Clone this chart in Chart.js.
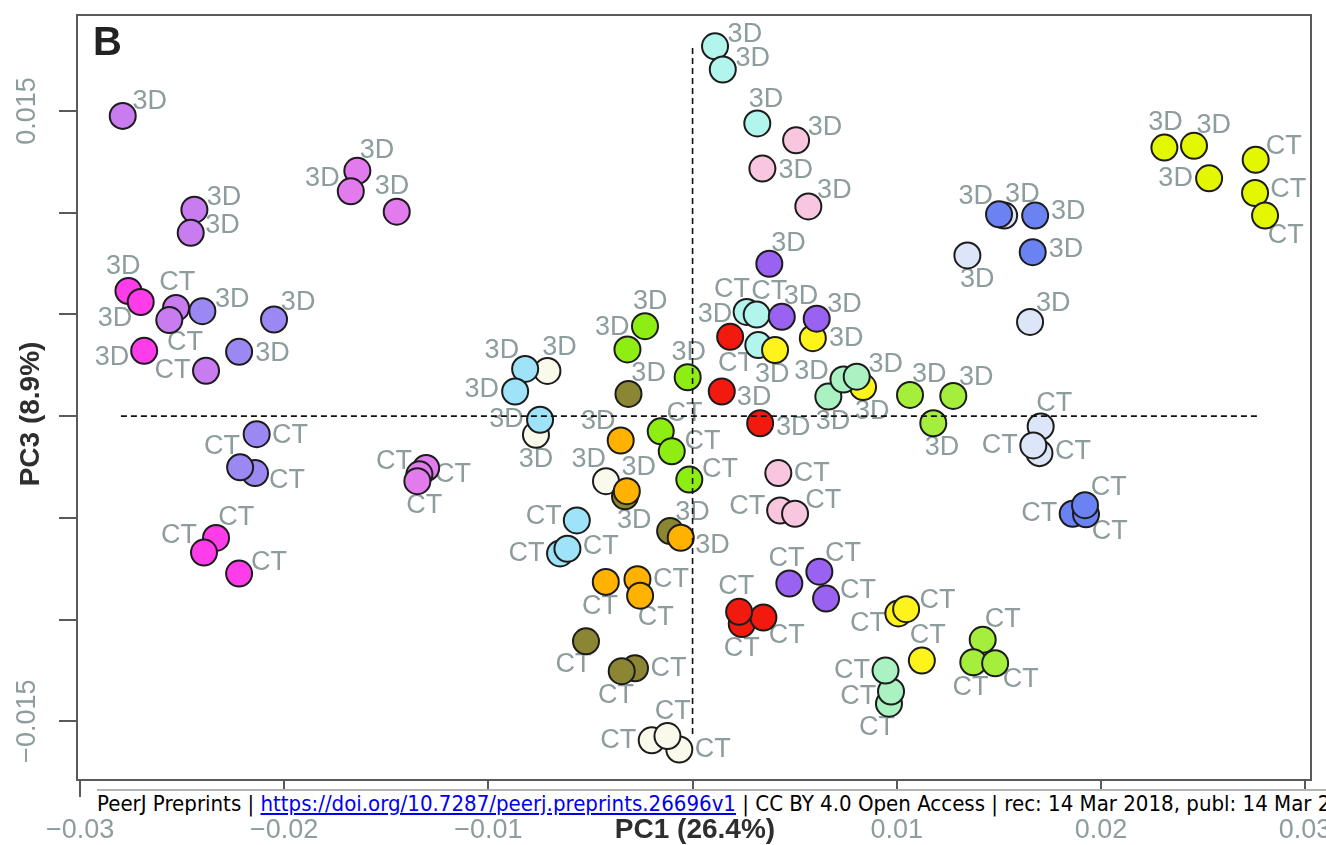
<!DOCTYPE html>
<html><head><meta charset="utf-8">
<script src="https://cdn.jsdelivr.net/npm/chart.js@4.4.1/dist/chart.umd.min.js"></script>
<style>
html,body{margin:0;padding:0;background:#fff;overflow:hidden;width:1326px;height:845px;}
#wrap{position:relative;width:1326px;height:845px;overflow:hidden;}
canvas{position:absolute;left:0;top:0;}
#footbg{position:absolute;left:97px;top:789px;width:1229px;height:27px;background:#fff;border-top:2px solid #b3b3b3;}
#foot{position:absolute;left:97px;top:792px;white-space:nowrap;font-family:"DejaVu Sans Condensed","DejaVu Sans",sans-serif;font-stretch:condensed;font-size:21px;line-height:24px;color:#000;transform-origin:0 0;}
#foot a{color:#0000ee;text-decoration:underline;}
</style></head>
<body><div id="wrap"><canvas id="c" width="1326" height="845"></canvas>
<div id="footbg"></div>
<div id="foot"><span id="footA">PeerJ Preprints | <a href="https://doi.org/10.7287/peerj.preprints.26696v1">https://doi.org/10.7287/peerj.preprints.26696v1</a></span> | CC BY 4.0 Open Access | rec: 14 Mar 2018, publ: 14 Mar 2018</div>
</div>
<script>
// ---------- data ----------
const xTicks = [-0.03, -0.02, -0.01, 0, 0.01, 0.02, 0.03];
const xTickLabels = ['\u22120.03', '\u22120.02', '\u22120.01', '', '0.01', '0.02', '0.03'];
const yTicks = [-0.015, -0.01, -0.005, 0, 0.005, 0.01, 0.015];
const yTickLabels = ['\u22120.015', '', '', '', '', '', '0.015'];
const xTitle = 'PC1 (26.4%)';
const yTitle = 'PC3 (8.9%)';
const panelLetter = 'B';

// specimen group of each point
const specimen = [
  0,0,0,0,0,0, 1,1,1,1,1,1, 2,2,2,2,2,2, 3,3,3,3,3,3, 4,4,4,4,4,4,
  5,5,5,5,5,5, 6,6,6,6,6,6, 7,7,7,7,7,7, 8,8,8,8,8,8, 9,9,9,9,9,9,
  10,10,10,10,10,10, 11,11,11,11,11,11, 12,12,12,12,12,12, 13,13,13,13,13,13,
  14,14,14,14,14,14, 15,15,15,15,15,15, 16,16,16,16,16,16, 17,17,17,17,17,17,
  18,18,18,18,18,18
];
const scanType = [];
for (let i = 0; i < 19; i++) scanType.push('3D','3D','3D','CT','CT','CT');

const pc1 = [
  -0.02791,-0.02440,-0.02458,-0.02530,-0.02563,-0.02383,
  -0.01642,-0.01674,-0.01449,-0.01305,-0.01338,-0.01348,
  -0.02763,-0.02703,-0.02686,-0.02334,-0.02393,-0.02221,
  -0.02401,-0.02050,-0.02221,-0.02135,-0.02143,-0.02216,
  -0.00711,-0.00767,-0.00424,-0.00200,-0.00065,-0.00123,
  -0.00820,-0.00869,-0.00747,-0.00567,-0.00649,-0.00613,
  -0.00233,-0.00319,-0.00024,-0.00156,-0.00102,-0.00016,
  -0.00314,-0.00331,-0.00110,-0.00522,-0.00282,-0.00347,
  -0.00352,-0.00322,-0.00058,-0.00425,-0.00270,-0.00257,
   0.00110, 0.00148, 0.00317, 0.00265, 0.00314, 0.00322,
   0.00507, 0.00342, 0.00567, 0.00420, 0.00429, 0.00502,
   0.00184, 0.00143, 0.00331, 0.00241, 0.00347, 0.00228,
   0.00589, 0.00404, 0.00835, 0.01008, 0.01046, 0.01123,
   0.00376, 0.00437, 0.00608, 0.00474, 0.00621, 0.00654,
   0.00665, 0.00739, 0.00804, 0.00962, 0.00972, 0.00945,
   0.01065, 0.01277, 0.01179, 0.01421, 0.01375, 0.01482,
   0.01526, 0.01346, 0.01653, 0.01705, 0.01699, 0.01669,
   0.01501, 0.01678, 0.01666, 0.01862, 0.01927, 0.01922,
   0.02311, 0.02456, 0.02530, 0.02758, 0.02755, 0.02804
];
const pc3 = [
   0.01476, 0.01015, 0.00901, 0.00532, 0.00472, 0.00223,
   0.01206, 0.01105, 0.01005,-0.00255,-0.00286,-0.00320,
   0.00615, 0.00561, 0.00321,-0.00599,-0.00671,-0.00774,
   0.00516, 0.00475, 0.00316,-0.00089,-0.00280,-0.00252,
   0.00222,-0.00092,-0.00320,-0.01594,-0.01639,-0.01573,
   0.00232, 0.00121,-0.00018,-0.00513,-0.00675,-0.00652,
   0.00442, 0.00328, 0.00191,-0.00075,-0.00173,-0.00312,
   0.00109,-0.00394,-0.00565,-0.01107,-0.01240,-0.01254,
  -0.00120,-0.00369,-0.00598,-0.00815,-0.00802,-0.00883,
   0.01818, 0.01704, 0.01439, 0.00512, 0.00499, 0.00349,
   0.01356, 0.01217, 0.01031,-0.00280,-0.00464,-0.00480,
   0.00390, 0.00121,-0.00035,-0.01022,-0.00990,-0.00962,
   0.00383, 0.00325, 0.00143,-0.00970,-0.00949,-0.01202,
   0.00749, 0.00488, 0.00479,-0.00823,-0.00765,-0.00897,
   0.00096, 0.00180, 0.00194,-0.01414,-0.01354,-0.01251,
   0.00104, 0.00099,-0.00035,-0.01100,-0.01210,-0.01215,
   0.00986, 0.00790, 0.00463,-0.00051,-0.00182,-0.00144,
   0.00992, 0.00986, 0.00806,-0.00480,-0.00483,-0.00438,
   0.01320, 0.01329, 0.01169, 0.01260, 0.01097, 0.00986
];
// direction (degrees, 0 = right, 90 = up) of each text label around its point
const labelAngle = [
  36,28,18,88,-62,180,
  54,148,98,164,0,-78,
  99,220,196,53,138,27,
  27,44,-5,-4,-17,123,
  69,-90,121,180,0,81,
  134,175,180,170,180,5,
  81,117,88,45,23,24,
  53,-74,48,248,0,260,
  132,69,-18,-100,0,-62,
  27,27,75,116,68,228,
  30,-5,39,0,170,33,
  117,-15,-10,-90,-46,95,
  0,-95,-74,205,20,80,
  55,55,34,95,45,18,
  -82,162,30,249,192,180,
  55,47,-75,53,-95,-40,
  57,-73,46,66,4,180,
  134,9,5,180,-45,45,
  88,54,180,33,8,-52
];
const specimenColors = [
  '#C87CF0','#E27BEE','#FF3CEA','#9C88F2','#FAFAEC',
  '#9EE3F7','#8EEE14','#8B8634','#FFB300','#B2F5EC',
  '#F9C6E0','#F21A0E','#FFF31C','#9A62F0','#AAF2C2',
  '#A6EE3C','#DDE6F8','#6A82F2','#E2F700'
];
// dashed reference lines (data coordinates)
const hRefX = [-0.0280, 0.0278];
const vRefY = [0.0181, -0.0158];
const xRange = [-0.03015, 0.03029];
const yRange = [-0.01789, 0.01972];

// ---------- build datasets ----------
const datasets = [];
specimenColors.forEach((col, g) => {
  const pts = [], txt = [], ang = [];
  for (let i = 0; i < pc1.length; i++) {
    if (specimen[i] !== g) continue;
    pts.push({x: pc1[i], y: pc3[i]});
    txt.push(scanType[i]);
    ang.push(labelAngle[i]);
  }
  datasets.push({
    data: pts, pointTexts: txt, pointAngles: ang,
    pointRadius: 13, pointHoverRadius: 13, pointBorderWidth: 2, pointHoverBorderWidth: 2,
    pointBackgroundColor: col, pointBorderColor: '#1c1c1c',
    showLine: false, order: 100 - g, clip: false
  });
});
datasets.push({
  data: [{x: hRefX[0], y: 0}, {x: hRefX[1], y: 0}],
  showLine: true, borderColor: '#111', borderWidth: 1.6, borderDash: [6, 4],
  pointRadius: 0, order: 0
});
datasets.push({
  data: [{x: 0, y: vRefY[0]}, {x: 0, y: vRefY[1]}],
  showLine: true, borderColor: '#111', borderWidth: 1.6, borderDash: [6, 4],
  pointRadius: 0, order: 0
});

const GREY = '#8d9c9c';
const FONT = "'Liberation Sans', Arial, Helvetica, sans-serif";

const labelPlugin = {
  id: 'ptLabels',
  beforeDatasetsDraw(chart) {
    const c = chart.ctx;
    c.save();
    c.font = '27px ' + FONT;
    c.fillStyle = GREY;
    c.textAlign = 'center';
    c.textBaseline = 'middle';
    chart.data.datasets.forEach((ds, i) => {
      if (!ds.pointTexts) return;
      const meta = chart.getDatasetMeta(i);
      meta.data.forEach((el, j) => {
        const a = ds.pointAngles[j] * Math.PI / 180;
        c.fillText(ds.pointTexts[j], el.x + 33.5 * Math.cos(a), el.y - 25 * Math.sin(a));
      });
    });
    c.restore();
  }
};

const axesPlugin = {
  id: 'rAxes',
  afterDraw(chart) {
    const c = chart.ctx, a = chart.chartArea, xs = chart.scales.x, ys = chart.scales.y;
    c.save();
    c.strokeStyle = '#5a5a5a';
    c.lineWidth = 2;
    c.strokeRect(a.left, a.top, a.right - a.left, a.bottom - a.top);
    c.beginPath();
    yTicks.forEach(v => { const p = Math.round(ys.getPixelForValue(v)); c.moveTo(a.left - 18, p); c.lineTo(a.left, p); });
    xTicks.forEach(v => { const p = Math.round(xs.getPixelForValue(v)); c.moveTo(p, a.bottom); c.lineTo(p, a.bottom + 17); });
    c.stroke();
    // tick labels
    c.fillStyle = GREY;
    c.font = '27px ' + FONT;
    c.textAlign = 'center';
    c.textBaseline = 'alphabetic';
    xTicks.forEach((v, i) => { if (xTickLabels[i]) c.fillText(xTickLabels[i], xs.getPixelForValue(v), 838); });
    yTicks.forEach((v, i) => {
      if (!yTickLabels[i]) return;
      c.save(); c.translate(35, ys.getPixelForValue(v)); c.rotate(-Math.PI / 2);
      c.fillText(yTickLabels[i], 0, 0); c.restore();
    });
    // titles
    c.fillStyle = '#2e2e2e';
    c.font = 'bold 28px ' + FONT;
    c.fillText(xTitle, 695, 838);
    c.save(); c.translate(39, 414); c.rotate(-Math.PI / 2); c.fillText(yTitle, 0, 0); c.restore();
    // panel letter
    c.fillStyle = '#222';
    c.font = 'bold 40px ' + FONT;
    c.textAlign = 'left';
    c.fillText(panelLetter, 93, 55);
    c.restore();
  }
};

new Chart(document.getElementById('c'), {
  type: 'scatter',
  data: {datasets},
  options: {
    responsive: false, animation: false, devicePixelRatio: 1, events: [],
    layout: {padding: {left: 77, top: 12, right: 15, bottom: 65}},
    plugins: {legend: {display: false}, tooltip: {enabled: false}},
    scales: {
      x: {type: 'linear', display: false, min: xRange[0], max: xRange[1]},
      y: {type: 'linear', display: false, min: yRange[0], max: yRange[1]}
    }
  },
  plugins: [labelPlugin, axesPlugin]
});

// fit footer width to the reference (PeerJ banner)
const footA = document.getElementById('footA');
const w = footA.getBoundingClientRect().width;
document.getElementById('foot').style.transform = 'scaleX(' + (639 / w) + ')';
</script>
</body></html>
